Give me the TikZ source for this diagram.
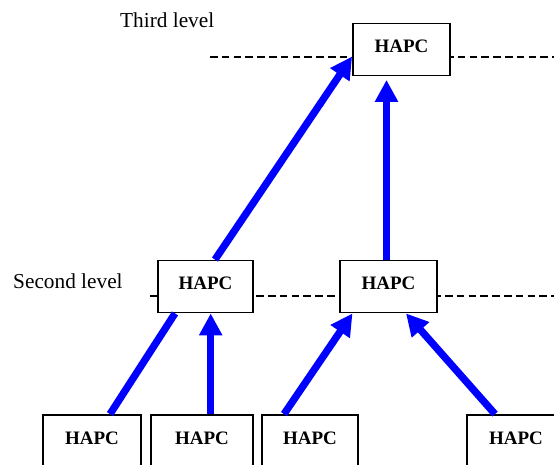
\documentclass[tikz,border=0pt]{standalone}
\usepackage{fontspec}
\setmainfont{Liberation Serif}
\usetikzlibrary{arrows.meta}

\tikzset{
  hapc/.style={draw, line width=1.8pt, fill=white, minimum width=97pt,
    minimum height=52pt, inner sep=0pt, text depth=6pt,
    font=\fontsize{19}{22}\selectfont\bfseries},
  link/.style={line width=7.3pt, blue},
  uplink/.style={link, -{Triangle[length=22pt,width=22pt]}},
  levelline/.style={line width=1.8pt, dash pattern=on 7.5pt off 4.3pt},
  levelname/.style={anchor=west, inner sep=0pt, font=\fontsize{21.3}{24}\selectfont}
}

\begin{document}
\begin{tikzpicture}[x=1pt, y=-1pt]
    \useasboundingbox (0,0) rectangle (554,465);
    \clip (0,0) rectangle (554,465);
    % level lines
    \coordinate (thirdL) at (210,57);
    \coordinate (thirdR) at (554,57);
    \coordinate (secondL) at (150,296);
    \coordinate (secondR) at (554,296);
    \draw[levelline] (thirdL) -- (thirdR);
    \draw[levelline] (secondL) -- (secondR);
    \node[levelname] (lvl3) at (120,20) {Third level};
    \node[levelname] (lvl2) at (13,281) {Second level};
    % (c) third level
    \node[hapc] (top) at (401.5,49.5) {HAPC};
    % (b) second level
    \node[hapc, minimum width=95pt] (midA) at (205.5,286.5) {HAPC};
    \node[hapc] (midB) at (388.5,286.5) {HAPC};
    % (a) first level
    \node[hapc, minimum width=98pt] (lowA) at (92,441) {HAPC};
    \node[hapc, minimum width=102pt] (lowB) at (202,441) {HAPC};
    \node[hapc, minimum width=96pt] (lowC) at (310,441) {HAPC};
    \node[hapc, minimum width=98pt] (lowD) at (516,441) {HAPC};
    % links between levels
    \draw[link] ([xshift=18pt]lowA.north) -- ([xshift=-30.5pt]midA.south);
    \draw[uplink] ([xshift=8.7pt]lowB.north) -- ([xshift=5.2pt]midA.south);
    \draw[uplink] ([xshift=-26pt]lowC.north) -- ([xshift=-36pt]midB.south);
    \draw[uplink] ([xshift=-21pt]lowD.north) -- ([xshift=17.5pt]midB.south);
    \draw[uplink] ([xshift=9.5pt]midA.north) -- ([yshift=-7pt]top.west);
    \draw[uplink] ([xshift=-2pt]midB.north) -- ([xshift=-15pt,yshift=-3.5pt]top.south);
  \end{tikzpicture}
\end{document}
